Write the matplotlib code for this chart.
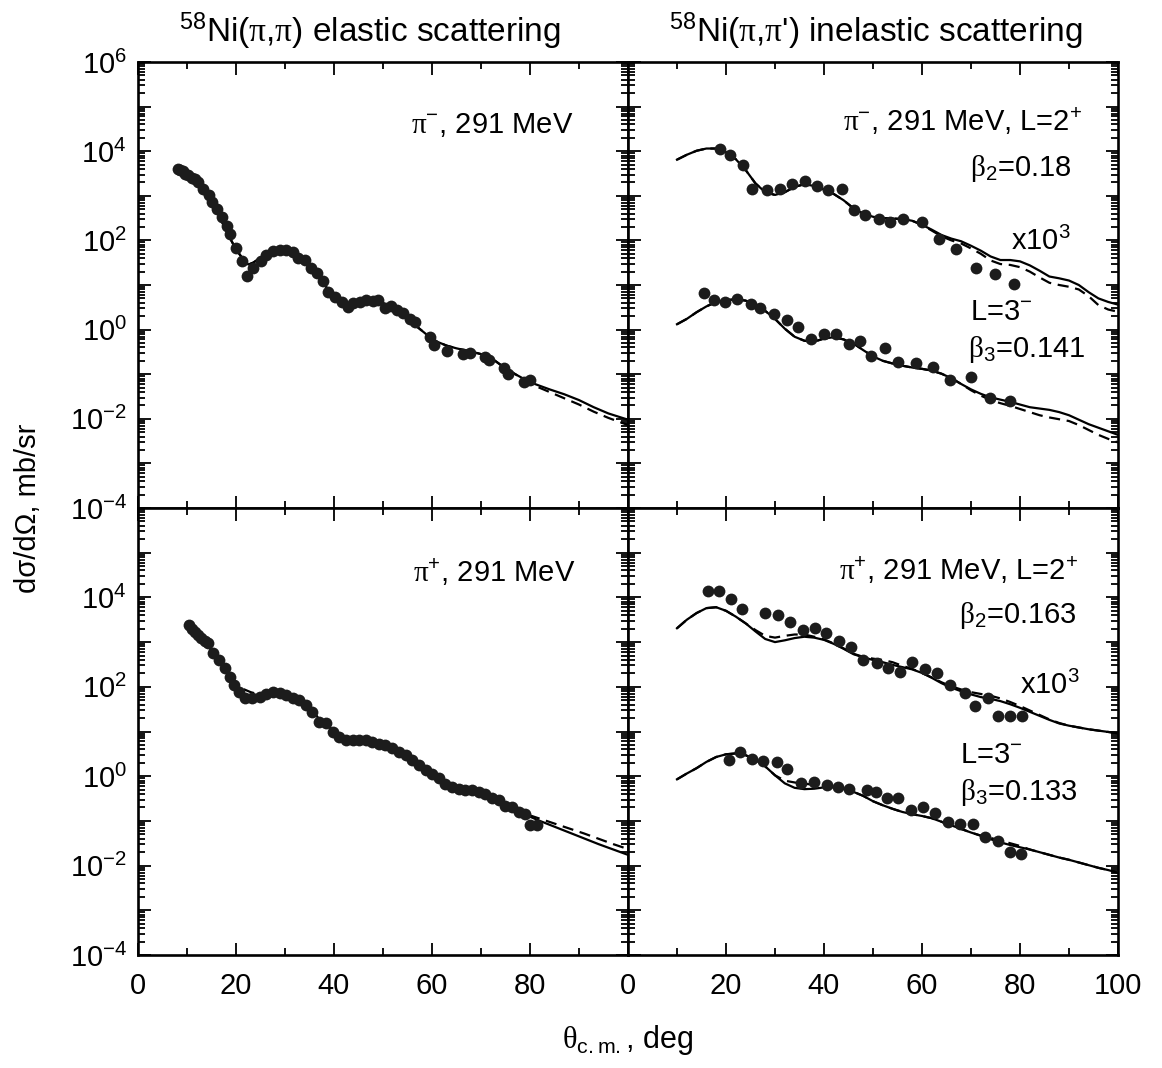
import numpy as np
import matplotlib
matplotlib.use("Agg")
import matplotlib.pyplot as plt
from matplotlib.ticker import FixedLocator, LogLocator, FuncFormatter, MultipleLocator, NullFormatter

plt.rcParams['font.family'] = ['Liberation Sans', 'DejaVu Sans']
plt.rcParams['mathtext.fontset'] = 'custom'
plt.rcParams['mathtext.rm'] = 'Liberation Sans'
plt.rcParams['mathtext.it'] = 'Liberation Sans:italic'
plt.rcParams['mathtext.sf'] = 'Liberation Serif'   # serif greek like the original

# ---- data, log10(dsigma/dOmega) ----
# pi- elastic
tl_theta = [8.1, 8.6, 9.1, 9.6, 10.3, 11.0, 11.6, 12.3, 13.2, 14.4, 15.0, 16.2, 17.1, 18.1, 18.8,
            20.0, 21.2, 22.3, 23.4, 25.0, 26.2, 27.6, 29.0, 30.3, 31.6, 32.7, 34.1, 35.4, 36.5,
            37.7, 38.8, 40.2, 41.6, 42.9, 43.9, 45.3, 46.6, 47.9, 49.0, 50.4, 51.6, 52.8, 54.0,
            55.5, 56.5, 59.6, 60.4, 63.0, 66.4, 67.8, 70.8, 71.7, 74.6, 75.6, 78.8, 80.0]
tl_log = [3.61, 3.58, 3.55, 3.50, 3.46, 3.41, 3.38, 3.32, 3.15, 3.02, 2.85, 2.71, 2.53, 2.33, 2.14,
          1.83, 1.54, 1.20, 1.38, 1.54, 1.68, 1.76, 1.79, 1.78, 1.75, 1.61, 1.55, 1.39, 1.28,
          1.08, 0.85, 0.73, 0.63, 0.51, 0.60, 0.63, 0.66, 0.64, 0.67, 0.49, 0.53, 0.43, 0.38,
          0.23, 0.16, -0.16, -0.34, -0.49, -0.55, -0.53, -0.61, -0.68, -0.85, -0.99, -1.17, -1.12]
tl_fit_theta = [8, 10, 12, 14, 16, 18, 20, 21.5, 22.5, 23.5, 25, 27, 29, 31, 33, 35, 37, 39, 41, 43,
                45, 47, 49, 51, 53, 55, 57, 59, 61, 63, 65, 67, 69, 71, 73, 75, 77, 79, 81, 84,
                87, 90, 93, 96, 100]
tl_solid = [3.63, 3.48, 3.29, 2.96, 2.69, 2.21, 1.80, 1.57, 1.46, 1.50, 1.61, 1.75, 1.80, 1.72,
            1.57, 1.40, 1.16, 0.87, 0.68, 0.57, 0.62, 0.67, 0.68, 0.53, 0.42, 0.24, 0.06, -0.12,
            -0.27, -0.36, -0.42, -0.47, -0.52, -0.58, -0.71, -0.87, -1.00, -1.12, -1.22, -1.34,
            -1.45, -1.58, -1.74, -1.88, -2.02]
tl_dash = [3.63, 3.48, 3.29, 2.96, 2.69, 2.21, 1.80, 1.57, 1.46, 1.50, 1.61, 1.75, 1.80, 1.72,
           1.57, 1.40, 1.16, 0.87, 0.68, 0.57, 0.62, 0.67, 0.68, 0.53, 0.42, 0.24, 0.06, -0.12,
           -0.27, -0.36, -0.42, -0.47, -0.52, -0.58, -0.71, -0.87, -1.00, -1.14, -1.26, -1.40,
           -1.54, -1.68, -1.84, -1.98, -2.14]

# pi+ elastic
bl_theta = [10.4, 11.0, 11.6, 12.3, 12.9, 13.6, 14.3, 15.3, 16.5, 17.7, 18.7, 19.5, 20.6, 21.9,
            23.3, 24.8, 26.1, 27.5, 28.9, 30.2, 31.6, 32.9, 34.3, 35.6, 37.0, 38.3, 39.7, 41.0,
            42.4, 43.8, 45.1, 46.5, 47.8, 49.2, 50.5, 51.9, 53.3, 54.6, 56.0, 57.3, 58.7, 60.0,
            61.4, 62.7, 64.1, 65.5, 66.8, 68.2, 69.5, 70.9, 72.2, 73.6, 74.9, 76.3, 77.7, 79.0,
            80.0, 81.4]
bl_log = [3.38, 3.30, 3.23, 3.16, 3.10, 3.03, 2.97, 2.75, 2.60, 2.41, 2.22, 2.04, 1.89, 1.74,
          1.74, 1.78, 1.85, 1.89, 1.87, 1.81, 1.76, 1.70, 1.59, 1.44, 1.22, 1.18, 0.99, 0.88,
          0.81, 0.81, 0.81, 0.81, 0.77, 0.73, 0.69, 0.62, 0.54, 0.47, 0.36, 0.25, 0.13, 0.04,
          -0.05, -0.18, -0.24, -0.28, -0.31, -0.30, -0.35, -0.39, -0.48, -0.54, -0.67, -0.70,
          -0.80, -0.84, -1.10, -1.10]
bl_fit_theta = [10, 12, 14, 16, 18, 20, 21.5, 23, 25, 27, 29, 31, 33, 35, 37, 39, 41, 43, 45, 47,
                49, 51, 53, 55, 57, 59, 61, 63, 65, 67, 69, 71, 73, 75, 77, 79, 82, 85, 88, 91,
                94, 97, 100]
bl_solid = [3.45, 3.15, 2.97, 2.65, 2.35, 1.98, 1.82, 1.76, 1.80, 1.86, 1.86, 1.80, 1.70, 1.52,
            1.28, 1.10, 0.93, 0.83, 0.82, 0.80, 0.75, 0.67, 0.55, 0.45, 0.28, 0.14, 0.00, -0.13,
            -0.25, -0.31, -0.34, -0.40, -0.50, -0.62, -0.74, -0.86, -1.00, -1.13, -1.26, -1.39,
            -1.52, -1.64, -1.76]
bl_dash = [3.45, 3.15, 2.97, 2.65, 2.35, 2.05, 1.95, 1.88, 1.82, 1.86, 1.86, 1.80, 1.70, 1.52,
           1.28, 1.10, 0.93, 0.83, 0.82, 0.80, 0.75, 0.67, 0.55, 0.45, 0.28, 0.14, 0.00, -0.13,
           -0.25, -0.31, -0.34, -0.40, -0.50, -0.62, -0.74, -0.84, -0.95, -1.06, -1.17, -1.28,
           -1.40, -1.52, -1.63]

# inelastic fits share one angle grid
inel_theta = [10, 12, 14, 16, 18, 20, 22, 24, 26, 28, 30, 32, 34, 36, 38, 40, 42, 44, 46, 48,
              50, 52, 54, 56, 58, 60, 62, 64, 66, 68, 70, 72, 74, 76, 78, 80, 82, 84, 86, 88,
              90, 92, 94, 96, 98, 100]

# pi- inelastic, L=2+ (x10^3) and L=3-
tr2_theta = [18.7, 20.9, 23.4, 25.4, 28.3, 31.1, 33.4, 36.1, 38.5, 40.9, 43.6, 46.1, 48.3, 51.3,
             53.4, 56.2, 59.9, 63.5, 66.9, 71.0, 74.9, 78.7]
tr2_log = [4.06, 3.91, 3.69, 3.16, 3.12, 3.16, 3.27, 3.33, 3.22, 3.14, 3.16, 2.69, 2.58, 2.47,
           2.42, 2.47, 2.42, 2.04, 1.80, 1.39, 1.24, 1.03]
tr2_solid = [3.81, 3.92, 4.01, 4.06, 4.06, 3.98, 3.82, 3.58, 3.28, 3.08, 3.02, 3.08, 3.20, 3.26,
             3.22, 3.14, 3.04, 2.90, 2.72, 2.60, 2.53, 2.50, 2.49, 2.48, 2.44, 2.35, 2.24, 2.12,
             2.04, 1.98, 1.88, 1.77, 1.64, 1.56, 1.56, 1.53, 1.44, 1.32, 1.19, 1.15, 1.10, 1.00,
             0.84, 0.70, 0.62, 0.56]
tr2_dash = [3.81, 3.92, 4.01, 4.06, 4.06, 3.98, 3.82, 3.58, 3.28, 3.08, 3.02, 3.08, 3.20, 3.26,
            3.22, 3.14, 3.04, 2.90, 2.72, 2.60, 2.53, 2.50, 2.49, 2.48, 2.44, 2.35, 2.22, 2.09,
            2.00, 1.93, 1.82, 1.70, 1.55, 1.47, 1.45, 1.40, 1.30, 1.17, 1.05, 1.00, 0.96, 0.90,
            0.75, 0.55, 0.45, 0.40]
tr3_theta = [15.5, 17.6, 19.7, 22.3, 25.0, 27.0, 29.7, 32.4, 34.7, 37.4, 40.0, 42.4, 45.1, 47.4,
             49.6, 52.5, 55.0, 58.7, 62.3, 65.7, 69.9, 73.9, 77.9]
tr3_log = [0.81, 0.66, 0.63, 0.68, 0.58, 0.48, 0.36, 0.21, 0.06, -0.22, -0.10, -0.10, -0.33, -0.25,
           -0.59, -0.42, -0.72, -0.75, -0.83, -1.13, -1.06, -1.54, -1.61]
tr3_solid = [0.12, 0.24, 0.39, 0.52, 0.62, 0.66, 0.68, 0.65, 0.56, 0.42, 0.24, 0.02, -0.16, -0.25,
             -0.27, -0.20, -0.17, -0.22, -0.31, -0.46, -0.60, -0.70, -0.76, -0.81, -0.85, -0.88,
             -0.92, -0.99, -1.09, -1.22, -1.34, -1.44, -1.52, -1.57, -1.62, -1.68, -1.74, -1.77,
             -1.80, -1.85, -1.92, -2.02, -2.12, -2.20, -2.28, -2.36]
tr3_dash = [0.12, 0.24, 0.39, 0.52, 0.62, 0.66, 0.68, 0.65, 0.56, 0.42, 0.24, 0.02, -0.16, -0.25,
            -0.27, -0.20, -0.17, -0.22, -0.31, -0.46, -0.60, -0.70, -0.76, -0.81, -0.85, -0.88,
            -0.92, -0.99, -1.09, -1.22, -1.36, -1.48, -1.58, -1.65, -1.71, -1.78, -1.85, -1.92,
            -1.97, -2.01, -2.05, -2.14, -2.25, -2.36, -2.45, -2.53]

# pi+ inelastic
br2_theta = [16.3, 18.5, 21.0, 23.3, 28.0, 30.7, 33.0, 35.7, 38.1, 40.4, 43.0, 45.6, 47.9, 50.8,
             53.1, 55.5, 58.0, 60.6, 63.0, 65.7, 68.7, 70.9, 73.4, 75.6, 78.0, 80.5]
br2_log = [4.15, 4.15, 3.96, 3.75, 3.66, 3.60, 3.46, 3.28, 3.31, 3.21, 3.03, 2.88, 2.61, 2.54,
           2.43, 2.34, 2.56, 2.39, 2.30, 2.04, 1.87, 1.57, 1.76, 1.34, 1.34, 1.34]
br2_solid = [3.31, 3.50, 3.65, 3.76, 3.78, 3.70, 3.57, 3.42, 3.24, 3.07, 3.00, 3.04, 3.09, 3.12,
             3.10, 3.05, 2.96, 2.85, 2.73, 2.66, 2.60, 2.55, 2.49, 2.44, 2.39, 2.31, 2.20, 2.08,
             1.98, 1.90, 1.83, 1.77, 1.73, 1.68, 1.61, 1.53, 1.44, 1.35, 1.26, 1.18, 1.13, 1.09,
             1.05, 1.02, 0.99, 0.96]
br2_dash = [3.31, 3.50, 3.65, 3.76, 3.78, 3.70, 3.57, 3.42, 3.27, 3.14, 3.10, 3.14, 3.17, 3.17,
            3.12, 3.06, 2.97, 2.86, 2.74, 2.67, 2.63, 2.60, 2.55, 2.47, 2.40, 2.31, 2.21, 2.10,
            2.01, 1.94, 1.88, 1.84, 1.80, 1.74, 1.66, 1.57, 1.47, 1.37, 1.27, 1.19, 1.13, 1.09,
            1.05, 1.02, 0.99, 0.96]
br3_theta = [20.6, 22.9, 25.4, 27.6, 30.5, 32.5, 35.4, 37.9, 40.6, 42.9, 45.2, 48.7, 50.6, 52.8,
             55.2, 57.7, 60.2, 62.7, 65.3, 67.7, 70.4, 72.8, 75.5, 78.0, 80.3]
br3_log = [0.37, 0.54, 0.38, 0.34, 0.32, 0.17, -0.15, -0.13, -0.20, -0.24, -0.28, -0.30, -0.35,
           -0.48, -0.48, -0.76, -0.69, -0.82, -1.02, -1.06, -1.06, -1.36, -1.45, -1.69, -1.75]
br3_solid = [-0.07, 0.06, 0.18, 0.32, 0.43, 0.49, 0.51, 0.47, 0.37, 0.22, 0.02, -0.16, -0.26,
             -0.29, -0.28, -0.25, -0.25, -0.28, -0.35, -0.44, -0.56, -0.65, -0.73, -0.80, -0.85,
             -0.89, -0.94, -1.02, -1.10, -1.18, -1.26, -1.33, -1.41, -1.48, -1.54, -1.59, -1.64,
             -1.70, -1.76, -1.82, -1.87, -1.93, -1.99, -2.05, -2.10, -2.16]
br3_dash = [-0.07, 0.06, 0.18, 0.32, 0.43, 0.49, 0.51, 0.47, 0.37, 0.22, 0.02, -0.10, -0.14,
            -0.17, -0.19, -0.21, -0.23, -0.28, -0.35, -0.44, -0.56, -0.65, -0.73, -0.80, -0.85,
            -0.89, -0.94, -1.02, -1.10, -1.18, -1.26, -1.33, -1.38, -1.44, -1.50, -1.56, -1.64,
            -1.70, -1.76, -1.82, -1.87, -1.93, -1.99, -2.05, -2.10, -2.16]


def lin(v):
    return 10.0 ** np.asarray(v)


W, H = 1162, 1068
fig = plt.figure(figsize=(W / 100, H / 100), dpi=100)


def box(x0, y0, x1, y1):
    # pixel box -> figure fraction
    return [x0 / W, 1 - y1 / H, (x1 - x0) / W, (y1 - y0) / H]


ax_tl = fig.add_axes(box(138, 62, 628, 508))
ax_tr = fig.add_axes(box(628, 62, 1118, 508))
ax_bl = fig.add_axes(box(138, 508, 628, 955))
ax_br = fig.add_axes(box(628, 508, 1118, 955))

FS = 21


def style(ax, top_row, left_col):
    ax.set_yscale('log')
    ax.set_xlim(0, 100)
    ax.set_ylim(1e-4, 1e6)
    ax.xaxis.set_major_locator(MultipleLocator(20))
    ax.xaxis.set_minor_locator(MultipleLocator(10))
    ax.yaxis.set_major_locator(FixedLocator([10.0 ** k for k in range(-4, 7)]))
    ax.yaxis.set_minor_locator(LogLocator(base=10, subs=np.arange(2, 10), numticks=30))
    ax.yaxis.set_minor_formatter(NullFormatter())
    ax.tick_params(which='both', direction='in', top=True, right=True, width=1.3,
                   labelsize=FS)
    ax.tick_params(which='major', length=9)
    ax.tick_params(which='minor', length=5)
    ax.tick_params(axis='x', pad=12)
    ax.tick_params(axis='y', pad=8)
    for s in ax.spines.values():
        s.set_linewidth(1.9)

    def yfmt(v, pos):
        k = int(round(np.log10(v)))
        if k % 2 or (not top_row and k == 6):
            return ''
        return r'$10^{%d}$' % k

    def xfmt(v, pos):
        if left_col and v > 99:
            return ''
        return '%d' % v

    if left_col:
        ax.yaxis.set_major_formatter(FuncFormatter(yfmt))
    else:
        ax.tick_params(labelleft=False)
    if top_row:
        ax.tick_params(labelbottom=False)
    else:
        ax.xaxis.set_major_formatter(FuncFormatter(xfmt))


def draw(ax, th, logv, fit_th, solid, dash):
    ax.plot(fit_th, lin(solid), '-', color='black', lw=1.6, zorder=2)
    ax.plot(fit_th, lin(dash), '--', color='black', lw=1.6, dashes=(5, 3), zorder=2)
    ax.plot(th, lin(logv), 'o', color='#1c1c1c', ms=8.5, mec='none', zorder=3)


style(ax_tl, True, True)
style(ax_tr, True, False)
style(ax_bl, False, True)
style(ax_br, False, False)

draw(ax_tl, tl_theta, tl_log, tl_fit_theta, tl_solid, tl_dash)
draw(ax_bl, bl_theta, bl_log, bl_fit_theta, bl_solid, bl_dash)
draw(ax_tr, tr2_theta, tr2_log, inel_theta, tr2_solid, tr2_dash)
draw(ax_tr, tr3_theta, tr3_log, inel_theta, tr3_solid, tr3_dash)
draw(ax_br, br2_theta, br2_log, inel_theta, br2_solid, br2_dash)
draw(ax_br, br3_theta, br3_log, inel_theta, br3_solid, br3_dash)

PI = r'$\mathsf{\pi}$'
BETA = r'$\mathsf{\beta}$'


def note(ax, x, y, s, ha):
    ax.text(x, y, s, transform=ax.transAxes, ha=ha, va='baseline', fontsize=FS)


note(ax_tl, 0.888, 0.840, PI + r'$^{-}$, 291 MeV', 'right')
note(ax_tr, 0.927, 0.846, PI + r'$^{-}$, 291 MeV, L=2$^{+}$', 'right')
note(ax_tr, 0.906, 0.745, BETA + r'$_{2}$=0.18', 'right')
note(ax_tr, 0.904, 0.578, r'x10$^{3}$', 'right')
note(ax_tr, 0.698, 0.422, r'L=3$^{-}$', 'left')
note(ax_tr, 0.694, 0.339, BETA + r'$_{3}$=0.141', 'left')

note(ax_bl, 0.892, 0.835, PI + r'$^{+}$, 291 MeV', 'right')
note(ax_br, 0.918, 0.839, PI + r'$^{+}$, 291 MeV, L=2$^{+}$', 'right')
note(ax_br, 0.916, 0.743, BETA + r'$_{2}$=0.163', 'right')
note(ax_br, 0.922, 0.584, r'x10$^{3}$', 'right')
note(ax_br, 0.678, 0.430, r'L=3$^{-}$', 'left')
note(ax_br, 0.678, 0.347, BETA + r'$_{3}$=0.133', 'left')

# titles and axis labels
fig.text(370 / W, 1 - 42 / H, r'$^{58}$Ni(' + PI + ',' + PI + ') elastic scattering',
         ha='center', va='baseline', fontsize=FS + 3)
fig.text(876 / W, 1 - 42 / H, r'$^{58}$Ni(' + PI + ',' + PI + "') inelastic scattering",
         ha='center', va='baseline', fontsize=FS + 3)
fig.text(28 / W, 1 - 508 / H, 'dσ/dΩ, mb/sr', rotation=90, ha='center', va='center',
         fontsize=FS)
fig.text(628 / W, 1 - 1048 / H, r'$\mathsf{\theta}_{\mathrm{c.m.}}$, deg',
         ha='center', va='baseline', fontsize=FS + 1)

fig.savefig('out.png', dpi=100)
